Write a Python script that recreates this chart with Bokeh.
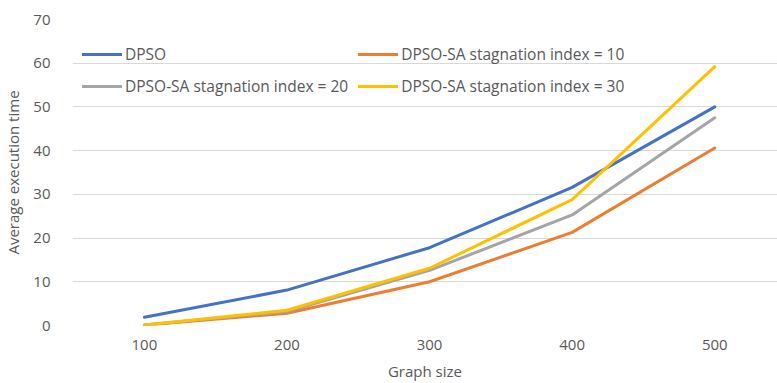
from bokeh.plotting import figure
from bokeh.models import Legend, LegendItem, FixedTicker, Range1d
from bokeh.embed import file_html
from bokeh.resources import INLINE

graph_size = [100, 200, 300, 400, 500]
dpso = [1.9, 8.1, 17.8, 31.6, 50.0]
sa10 = [0.1, 2.8, 10.0, 21.3, 40.6]
sa20 = [0.1, 3.2, 12.6, 25.3, 47.5]
sa30 = [0.1, 3.5, 13.1, 28.8, 59.2]
names = ["DPSO", "DPSO-SA stagnation index = 10",
         "DPSO-SA stagnation index = 20", "DPSO-SA stagnation index = 30"]
colors = ["#4472C4", "#ED7D31", "#A5A5A5", "#FFC000"]
y_ticks = [0, 10, 20, 30, 40, 50, 60, 70]

FONT = "Open Sans"
TXT = "#595959"
FS = "15px"

p = figure(width=777, height=383, output_backend="svg", toolbar_location=None,
           x_range=Range1d(49.6, 544), y_range=Range1d(0, 70),
           min_border_left=70, min_border_right=0, min_border_top=19,
           min_border_bottom=57)
p.outline_line_color = None
p.xgrid.grid_line_color = None
p.ygrid.grid_line_color = "#D9D9D9"
p.ygrid.grid_line_width = 1

for ax in (p.xaxis[0], p.yaxis[0]):
    ax.axis_line_color = None
    ax.major_tick_line_color = None
    ax.minor_tick_line_color = None
    ax.major_label_text_font = FONT
    ax.major_label_text_color = TXT
    ax.major_label_text_font_size = FS
    ax.axis_label_text_font = FONT
    ax.axis_label_text_color = TXT
    ax.axis_label_text_font_size = FS
    ax.axis_label_text_font_style = "normal"

p.xaxis.ticker = FixedTicker(ticks=graph_size)
p.yaxis.ticker = FixedTicker(ticks=y_ticks)
p.xaxis.axis_label = "Graph size"
p.yaxis.axis_label = "Average execution time"
p.xaxis.major_label_standoff = 8
p.yaxis.major_label_standoff = 16
p.xaxis.axis_label_standoff = 8
p.yaxis.axis_label_standoff = 7

renderers = []
for ys, c in zip([dpso, sa10, sa20, sa30], colors):
    r = p.line(graph_size, ys, line_color=c, line_width=3, line_join="round", line_cap="round")
    renderers.append(r)

order = [0, 2, 1, 3]
items = [LegendItem(label=names[i], renderers=[renderers[i]]) for i in order]
legend = Legend(items=items, ncols=2, location=(10, 228),
                border_line_color=None, background_fill_alpha=0,
                padding=0, margin=0, spacing=10, label_height=20,
                glyph_height=20, glyph_width=40, label_standoff=3,
                label_text_font=FONT, label_text_color=TXT,
                label_text_font_size="15.5px")
p.add_layout(legend, "center")

open("out.html", "w").write(file_html(p, INLINE))
